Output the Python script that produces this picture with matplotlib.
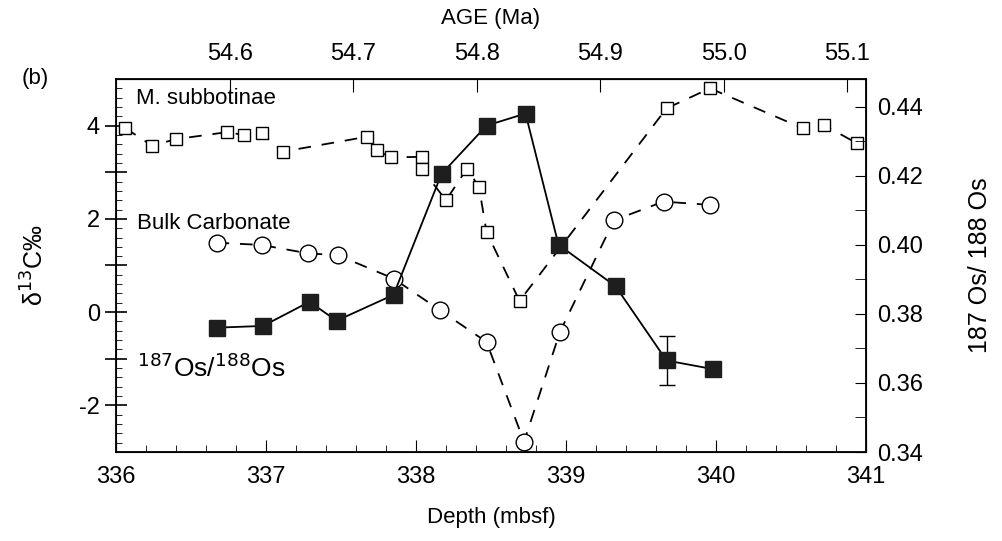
import matplotlib
matplotlib.use('Agg')
import matplotlib.pyplot as plt
from matplotlib.ticker import MultipleLocator, FixedLocator, FixedFormatter
import numpy as np

plt.rcParams['font.family'] = ['Liberation Sans', 'DejaVu Sans']
plt.rcParams['axes.unicode_minus'] = False

# M. subbotinae (open squares, dashed)
subb_depth = [336.06, 336.24, 336.40, 336.74, 336.85, 336.97, 337.11, 337.67, 337.74,
              337.83, 338.04, 338.04, 338.20, 338.34, 338.42, 338.47, 338.69, 339.67,
              339.96, 340.58, 340.72, 340.94]
subb_d13c = [3.95, 3.57, 3.71, 3.86, 3.80, 3.84, 3.44, 3.76, 3.48,
             3.32, 3.33, 3.06, 2.40, 3.08, 2.68, 1.72, 0.24, 4.37,
             4.80, 3.94, 4.01, 3.62]

# Bulk carbonate (open circles, dashed)
bulk_depth = [336.67, 336.97, 337.28, 337.48, 337.85, 338.16, 338.47, 338.72, 338.96,
              339.32, 339.65, 339.96]
bulk_d13c = [1.49, 1.44, 1.26, 1.22, 0.72, 0.04, -0.64, -2.78, -0.42,
             1.97, 2.37, 2.30]

# 187Os/188Os (filled squares, solid)
os_depth = [336.67, 336.98, 337.29, 337.47, 337.85, 338.17, 338.47, 338.73, 338.95,
            339.33, 339.67, 339.98]
os_ratio = [0.376, 0.3765, 0.3835, 0.378, 0.3855, 0.4205, 0.4345, 0.438, 0.400,
            0.388, 0.3665, 0.364]
os_err = [0, 0, 0, 0, 0, 0, 0, 0, 0, 0, 0.0072, 0]

age_ticks = [54.6, 54.7, 54.8, 54.9, 55.0, 55.1]


def depth_to_age(d):
    return 54.6 + (np.asarray(d) - 336.76) * 0.12157


def age_to_depth(a):
    return 336.76 + (np.asarray(a) - 54.6) / 0.12157


fig = plt.figure(figsize=(10.02, 5.41), dpi=100)
ax = fig.add_axes([0.1158, 0.1645, 0.7485, 0.6895])

dash = (0, (7, 6))
ax.plot(subb_depth, subb_d13c, color='black', linestyle=dash, linewidth=1.3,
        marker='s', markersize=9, markerfacecolor='white', markeredgecolor='black',
        markeredgewidth=1.0, zorder=3)
ax.plot(bulk_depth, bulk_d13c, color='black', linestyle=dash, linewidth=1.3,
        marker='o', markersize=12, markerfacecolor='white', markeredgecolor='black',
        markeredgewidth=1.0, zorder=3)

ax.set_xlim(336, 341)
ax.set_ylim(-3, 5)
ax.xaxis.set_major_locator(MultipleLocator(1))
ax.xaxis.set_minor_locator(MultipleLocator(0.2))
ax.tick_params(axis='x', which='major', direction='in', length=9, labelsize=17, top=False, pad=10)
ax.tick_params(axis='x', which='minor', direction='in', length=5, top=False)
ax.yaxis.set_major_locator(FixedLocator([-2, -1, 0, 1, 2, 3, 4]))
ax.yaxis.set_major_formatter(FixedFormatter(['-2', '', '0', '', '2', '', '4']))
ax.yaxis.set_minor_locator(MultipleLocator(0.2))
ax.tick_params(axis='y', which='major', direction='inout', length=16, labelsize=17, width=1.2)
ax.tick_params(axis='y', which='minor', direction='in', length=4)
ax.set_xlabel('Depth (mbsf)', fontsize=16, labelpad=14)
ax.set_ylabel('δ$^{13}$C‰', fontsize=18, labelpad=22)

ax2 = ax.twinx()
ax2.errorbar(os_depth, os_ratio, yerr=os_err, color='black', linewidth=1.3,
             marker='s', markersize=12, markerfacecolor='#1e1e1e', markeredgecolor='#1e1e1e',
             ecolor='black', elinewidth=1.0, capsize=6, zorder=4)
ax2.set_ylim(0.34, 0.448)
ax2.yaxis.set_major_locator(FixedLocator([0.34, 0.36, 0.38, 0.40, 0.42, 0.44]))
ax2.yaxis.set_major_formatter(FixedFormatter(['0.34', '0.36', '0.38', '0.40', '0.42', '0.44']))
ax2.yaxis.set_minor_locator(MultipleLocator(0.01))
ax2.tick_params(axis='y', which='major', direction='in', length=8, labelsize=17, pad=8)
ax2.tick_params(axis='y', which='minor', direction='in', length=8)
ax2.set_ylabel('187 Os/ 188 Os', fontsize=18, labelpad=32)

top = ax.secondary_xaxis('top', functions=(depth_to_age, age_to_depth))
top.set_xticks(age_ticks)
top.set_xticklabels(['54.6', '54.7', '54.8', '54.9', '55.0', '55.1'])
top.tick_params(direction='in', length=9, labelsize=17, pad=10)
top.set_xlabel('AGE (Ma)', fontsize=16, labelpad=14)

# in-plot labels
ax.text(336.13, 4.58, 'M. subbotinae', fontsize=16, va='center', ha='left')
ax.text(336.14, 1.9, 'Bulk Carbonate', fontsize=16, va='center', ha='left')
ax.text(336.14, -1.2, '$^{187}$Os/$^{188}$Os', fontsize=19, va='center', ha='left')
fig.text(0.022, 0.855, '(b)', fontsize=16, va='center', ha='left')

for sp in list(ax.spines.values()):
    sp.set_linewidth(1.3)

fig.savefig('out.png', dpi=100)
